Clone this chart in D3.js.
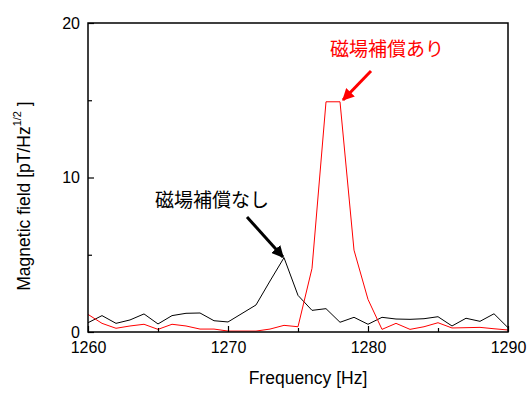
<!DOCTYPE html>
<html>
<head>
<meta charset="utf-8">
<script src="https://cdn.jsdelivr.net/npm/d3@7"></script>
<style>
  body { margin: 0; background: #fff; }
  text { font-family: "Liberation Sans", Arial, sans-serif; }
  .jp { font-family: "Noto Sans CJK JP", sans-serif; }
</style>
</head>
<body>
<svg id="chart" width="532" height="399"></svg>
<script>
// frequency in Hz, field in pT/Hz^1/2
var freq = d3.range(1260, 1291);
var withoutComp = [0.6, 1.06, 0.56, 0.78, 1.17, 0.52, 1.06, 1.21, 1.23, 0.73,
  0.65, 1.2, 1.75, 3.3, 4.81, 2.37, 1.4, 1.51, 0.63, 0.95,
  0.5, 0.95, 0.84, 0.82, 0.86, 0.99, 0.39, 0.89, 0.69, 1.18, 0.28];
var withComp = [1.14, 0.56, 0.24, 0.39, 0.5, 0.17, 0.5, 0.39, 0.19, 0.19,
  0.06, 0.06, 0.06, 0.19, 0.43, 0.34, 4.12, 14.9, 14.9, 5.3,
  2.11, 0.17, 0.56, 0.17, 0.34, 0.6, 0.26, 0.28, 0.3, 0.21, 0.13];
var xTicks = [1260, 1270, 1280, 1290];
var xMinor = [1265, 1275, 1285];
var yTicks = [0, 10, 20];
var yMinor = [5, 15];

var chart = d3.select("#chart");
var x = d3.scaleLinear().domain([1260, 1290]).range([88, 508]);
var y = d3.scaleLinear().domain([0, 20]).range([332, 23]);

// lines
var line = d3.line().x(function(d, i) { return x(freq[i]); }).y(function(d) { return y(d); });
chart.append("path")
  .attr("d", line(withoutComp))
  .style("fill", "none")
  .style("stroke", "#000")
  .style("stroke-width", 1);
chart.append("path")
  .attr("d", line(withComp))
  .style("fill", "none")
  .style("stroke", "#ff0000")
  .style("stroke-width", 1);

// frame
chart.append("rect")
  .attr("x", x(1260))
  .attr("y", y(20))
  .attr("width", x(1290) - x(1260))
  .attr("height", y(0) - y(20))
  .style("fill", "none")
  .style("stroke", "#000")
  .style("stroke-width", 1.5);

// axes, ticks pointing inward
var xAxis = chart.append("g")
  .attr("transform", "translate(0," + y(0) + ")")
  .call(d3.axisBottom(x).tickValues(xTicks).tickSize(-6).tickPadding(10).tickFormat(d3.format("d")));
var xAxisMinor = chart.append("g")
  .attr("transform", "translate(0," + y(0) + ")")
  .call(d3.axisBottom(x).tickValues(xMinor).tickSize(-4).tickFormat(""));
var yAxis = chart.append("g")
  .attr("transform", "translate(" + x(1260) + ",0)")
  .call(d3.axisLeft(y).tickValues(yTicks).tickSize(-6).tickPadding(8));
var yAxisMinor = chart.append("g")
  .attr("transform", "translate(" + x(1260) + ",0)")
  .call(d3.axisLeft(y).tickValues(yMinor).tickSize(-4).tickFormat(""));

[xAxis, xAxisMinor, yAxis, yAxisMinor].forEach(function(g) {
  g.select(".domain").remove();
  g.selectAll("line").style("stroke", "#000").style("stroke-width", 1.2);
  g.selectAll("text")
    .style("font-family", "'Liberation Sans', Arial, sans-serif")
    .style("font-size", "16px")
    .style("fill", "#000");
});

// axis titles
chart.append("text")
  .attr("x", 308)
  .attr("y", 384)
  .attr("text-anchor", "middle")
  .style("font-size", "17.5px")
  .text("Frequency [Hz]");

var yTitle = chart.append("text")
  .attr("transform", "translate(30,196) rotate(-90)")
  .attr("text-anchor", "middle")
  .style("font-size", "17.5px");
yTitle.append("tspan").text("Magnetic field [pT/Hz");
yTitle.append("tspan").attr("dy", -9).style("font-size", "11px").text("1/2");
yTitle.append("tspan").attr("dy", 9).text("  ]");

// annotations
chart.append("defs").selectAll("marker")
  .data([["arrowBlack", "#000"], ["arrowRed", "#ff0000"]])
  .enter().append("marker")
  .attr("id", function(d) { return d[0]; })
  .attr("viewBox", "0 0 10 10")
  .attr("refX", 9)
  .attr("refY", 5)
  .attr("markerWidth", 4)
  .attr("markerHeight", 4)
  .attr("markerUnits", "strokeWidth")
  .attr("orient", "auto")
  .append("path")
  .attr("d", "M0,0 L10,5 L0,10 z")
  .style("fill", function(d) { return d[1]; });

chart.append("line")
  .attr("x1", 247).attr("y1", 217)
  .attr("x2", 283).attr("y2", 257)
  .style("stroke", "#000")
  .style("stroke-width", 3)
  .attr("marker-end", "url(#arrowBlack)");
chart.append("line")
  .attr("x1", 371).attr("y1", 71)
  .attr("x2", 343).attr("y2", 100)
  .style("stroke", "#ff0000")
  .style("stroke-width", 3)
  .attr("marker-end", "url(#arrowRed)");

chart.append("text")
  .attr("class", "jp")
  .attr("x", 155)
  .attr("y", 207)
  .style("font-size", "19px")
  .style("fill", "#000")
  .text("磁場補償なし");
chart.append("text")
  .attr("class", "jp")
  .attr("x", 330)
  .attr("y", 56)
  .style("font-size", "19px")
  .style("fill", "#ff0000")
  .text("磁場補償あり");
</script>
</body>
</html>
